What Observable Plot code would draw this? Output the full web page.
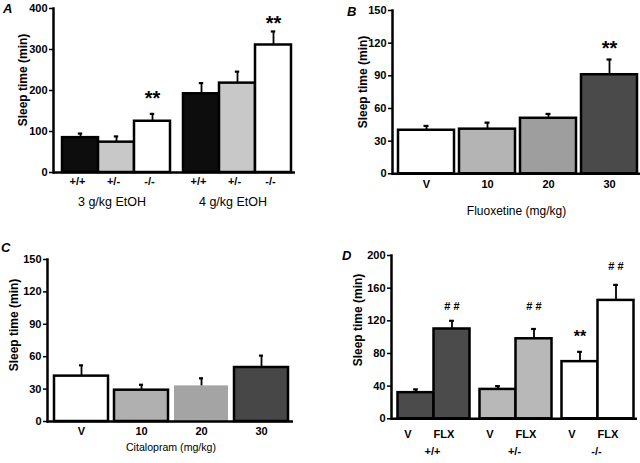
<!DOCTYPE html>
<html><head><meta charset="utf-8">
<script src="https://cdn.jsdelivr.net/npm/d3@7"></script>
<script src="https://cdn.jsdelivr.net/npm/@observablehq/plot@0.6"></script>
<style>
body{margin:0;background:#fff;}
#wrap{position:relative;width:640px;height:463px;overflow:hidden;font-family:"Liberation Sans",Arial,sans-serif;color:#000;}
.panel{position:absolute;}
.letter{position:absolute;font-weight:bold;font-style:italic;font-size:13px;line-height:1;}
.ytitle{position:absolute;left:0;top:0;font-weight:bold;font-size:12px;line-height:1;white-space:nowrap;transform:translate(-50%,-50%) rotate(-90deg);}
.xtitle{position:absolute;font-size:12px;line-height:1;white-space:nowrap;transform:translate(-50%,-50%);}
</style></head>
<body><div id="wrap"></div>
<script>
// ---------- data ----------
// Panel A: ethanol-induced sleep time by genotype
const genotypes = ["+/+", "+/-", "-/-"];
const ethanolDoses = ["3 g/kg EtOH", "4 g/kg EtOH"];
const sleepA = [85, 74, 125, 192, 218, 311];
const semA = [10, 14, 18, 26, 28, 33];
const sigA = [
  {dose: "3 g/kg EtOH", geno: "-/-", label: "**", at: 181},
  {dose: "4 g/kg EtOH", geno: "-/-", label: "**", at: 364}
];
const ticksA = [0, 100, 200, 300, 400];

// Panel B: fluoxetine
const doses = ["V", "10", "20", "30"];
const sleepB = [40, 41, 51, 91];
const semB = [4, 6, 4, 14];
const sigB = [{dose: "30", label: "**", at: 115}];
const ticksBC = [0, 30, 60, 90, 120, 150];

// Panel C: citalopram
const sleepC = [42, 29, 33, 50];
const semC = [10, 5, 7, 11];

// Panel D: fluoxetine by genotype
const treatments = ["V", "FLX"];
const sleepD = [32, 110, 36, 98, 70, 145];
const semD = [4, 10, 4, 12, 12, 19];
const sigD = [
  {geno: "+/+", trt: "FLX", label: "# #", at: 137},
  {geno: "+/-", trt: "FLX", label: "# #", at: 137},
  {geno: "-/-", trt: "FLX", label: "# #", at: 186.6},
  {geno: "-/-", trt: "V", label: "**", at: 100.5}
];
const ticksD = [0, 40, 80, 120, 160, 200];

// ---------- tables ----------
const A = ethanolDoses.flatMap((dose, i) => genotypes.map((geno, j) => ({dose, geno, mean: sleepA[i*3+j], sem: semA[i*3+j]})));
const B = doses.map((dose, i) => ({dose, mean: sleepB[i], sem: semB[i]}));
const C = doses.map((dose, i) => ({dose, mean: sleepC[i], sem: semC[i]}));
const D = genotypes.flatMap((geno, i) => treatments.map((trt, j) => ({geno, trt, mean: sleepD[i*2+j], sem: semD[i*2+j]})));

const FONT = "'Liberation Sans', Arial, sans-serif";
const baseStyle = {fontFamily: FONT, fontSize: "11px", fontWeight: "bold", background: "transparent", overflow: "visible", color: "#000"};
const errTop = d => d.mean + d.sem;
const wrap = document.getElementById("wrap");
function place(node, left, topPx, w) {
  const div = document.createElement("div");
  div.className = "panel";
  div.style.left = left + "px"; div.style.top = topPx + "px"; div.style.width = w + "px";
  div.appendChild(node);
  wrap.appendChild(div);
}
function addText(cls, text, x, y, size) {
  const d = document.createElement("div");
  d.className = cls; d.textContent = text;
  d.style.left = x + "px"; d.style.top = y + "px";
  if (size) d.style.fontSize = size + "px";
  wrap.appendChild(d);
}

// ---------- Panel A ----------
const plotA = Plot.plot({
  width: 320, height: 230,
  marginLeft: 53, marginRight: 25, marginTop: 8, marginBottom: 58,
  style: baseStyle,
  fx: {domain: ethanolDoses, paddingInner: 0, paddingOuter: 0},
  x: {domain: genotypes, paddingInner: 0, paddingOuter: 0.15, align: 0.68},
  y: {domain: [0, 400]},
  color: {domain: genotypes, range: ["#0d0d0d", "#c8c8c8", "#ffffff"]},
  marks: [
    Plot.barY(A, {fx: "dose", x: "geno", y: "mean", fill: "geno", stroke: "black", strokeWidth: 2.5}),
    Plot.ruleX(A, {fx: "dose", x: "geno", y1: "mean", y2: errTop, stroke: "black", strokeWidth: 1.8}),
    Plot.tickY(A, {fx: "dose", x: "geno", y: errTop, insetLeft: 15.8, insetRight: 15.8, stroke: "black", strokeWidth: 2.2}),
    Plot.ruleY([0], {stroke: "black", strokeWidth: 2.5}),
    Plot.frame({anchor: "left", facetAnchor: "left", stroke: "black", strokeWidth: 2.5}),
    Plot.axisY({ticks: ticksA, tickSize: 4, tickPadding: 2, label: null, strokeWidth: 1.5}),
    Plot.axisX({tickSize: 0, tickPadding: 5, dx: -3, label: null}),
    Plot.axisFx({anchor: "bottom", tickSize: 0, tickPadding: 25, dx: -2, label: null, fontWeight: "normal", fontSize: 12.5}),
    Plot.text(sigA, {fx: "dose", x: "geno", y: "at", text: "label", fontSize: 20, fontWeight: "bold"})
  ]
});
place(plotA, 0, 0, 320);

// ---------- Panel B ----------
const plotB = Plot.plot({
  width: 320, height: 230,
  marginLeft: 72, marginRight: 0, marginTop: 10, marginBottom: 56.7,
  style: baseStyle,
  x: {domain: doses, paddingInner: 0.089, paddingOuter: 0.061, align: 0.67},
  y: {domain: [0, 150]},
  color: {domain: doses, range: ["#ffffff", "#b4b4b4", "#9e9e9e", "#4a4a4a"]},
  marks: [
    Plot.barY(B, {x: "dose", y: "mean", fill: "dose", stroke: "black", strokeWidth: 2.5}),
    Plot.ruleX(B, {x: "dose", y1: "mean", y2: errTop, stroke: "black", strokeWidth: 1.8}),
    Plot.tickY(B, {x: "dose", y: errTop, insetLeft: 25.5, insetRight: 25.5, stroke: "black", strokeWidth: 2.2}),
    Plot.ruleY([0], {stroke: "black", strokeWidth: 2.5}),
    Plot.frame({anchor: "left", stroke: "black", strokeWidth: 2.5}),
    Plot.axisY({ticks: ticksBC, tickSize: 4, tickPadding: 2, label: null, strokeWidth: 1.5}),
    Plot.axisX({tickSize: 0, tickPadding: 6, label: null}),
    Plot.text(sigB, {x: "dose", y: "at", text: "label", fontSize: 20, fontWeight: "bold"})
  ]
});
place(plotB, 320, 0, 320);

// ---------- Panel C ----------
const plotC = Plot.plot({
  width: 320, height: 233,
  marginLeft: 47, marginRight: 27, marginTop: 29, marginBottom: 42,
  style: baseStyle,
  x: {domain: doses, paddingInner: 0.098, paddingOuter: 0.066, align: 0.62},
  y: {domain: [0, 150]},
  color: {domain: doses, range: ["#ffffff", "#b0b0b0", "#a4a4a4", "#474747"]},
  marks: [
    Plot.barY(C.filter(d => d.dose !== "20"), {x: "dose", y: "mean", fill: "dose", stroke: "black", strokeWidth: 2.5}),
    Plot.barY(C.filter(d => d.dose === "20"), {x: "dose", y: "mean", fill: "dose"}),
    Plot.ruleX(C, {x: "dose", y1: "mean", y2: errTop, stroke: "black", strokeWidth: 1.8}),
    Plot.tickY(C, {x: "dose", y: errTop, insetLeft: 25, insetRight: 25, stroke: "black", strokeWidth: 2.2}),
    Plot.ruleY([0], {stroke: "black", strokeWidth: 2.5}),
    Plot.frame({anchor: "left", stroke: "black", strokeWidth: 2.5}),
    Plot.axisY({ticks: ticksBC, tickSize: 4, tickPadding: 2, label: null, strokeWidth: 1.5}),
    Plot.axisX({tickSize: 0, tickPadding: 6, label: null})
  ]
});
place(plotC, 0, 230, 320);

// ---------- Panel D ----------
const plotD = Plot.plot({
  width: 320, height: 233,
  marginLeft: 70.5, marginRight: 3, marginTop: 25, marginBottom: 44.7,
  style: baseStyle,
  fx: {domain: genotypes, paddingInner: 0, paddingOuter: 0},
  x: {domain: treatments, paddingInner: 0, paddingOuter: 0.134, align: 0.67},
  y: {domain: [0, 200]},
  color: {domain: genotypes, range: ["#4b4b4b", "#b8b8b8", "#ffffff"]},
  marks: [
    Plot.barY(D, {fx: "geno", x: "trt", y: "mean", fill: "geno", stroke: "black", strokeWidth: 2.5}),
    Plot.ruleX(D, {fx: "geno", x: "trt", y1: "mean", y2: errTop, stroke: "black", strokeWidth: 1.8}),
    Plot.tickY(D, {fx: "geno", x: "trt", y: errTop, insetLeft: 15.6, insetRight: 15.6, stroke: "black", strokeWidth: 2.2}),
    Plot.ruleY([0], {stroke: "black", strokeWidth: 2.5}),
    Plot.frame({anchor: "left", facetAnchor: "left", stroke: "black", strokeWidth: 2.5}),
    Plot.axisY({ticks: ticksD, tickSize: 4, tickPadding: 2, label: null, strokeWidth: 1.5}),
    Plot.axisX({tickSize: 0, tickPadding: 11.7, dx: -8, label: null}),
    Plot.axisFx({anchor: "bottom", tickSize: 0, tickPadding: 28.5, label: null}),
    Plot.text(sigD.filter(d => d.label !== "**"), {fx: "geno", x: "trt", y: "at", text: "label", fontSize: 11, fontWeight: "bold"}),
    Plot.text(sigD.filter(d => d.label === "**"), {fx: "geno", x: "trt", y: "at", text: "label", fontSize: 16, fontWeight: "bold"})
  ]
});
place(plotD, 320, 230, 320);

// ---------- axis titles, panel letters ----------
[["A", 3, 2], ["B", 347, 5], ["C", 1, 241], ["D", 342, 249]].forEach(([t, x, y]) => {
  const d = document.createElement("div");
  d.className = "letter"; d.textContent = t;
  d.style.left = x + "px"; d.style.top = y + "px";
  wrap.appendChild(d);
});
addText("ytitle", "Sleep time (min)", 23, 80);
addText("ytitle", "Sleep time (min)", 362.5, 82);
addText("ytitle", "Sleep time (min)", 14, 325);
addText("ytitle", "Sleep time (min)", 358, 320);
addText("xtitle", "Fluoxetine (mg/kg)", 516.5, 211);
addText("xtitle", "Citalopram (mg/kg)", 171, 447, 10.6);
</script>
</body></html>
